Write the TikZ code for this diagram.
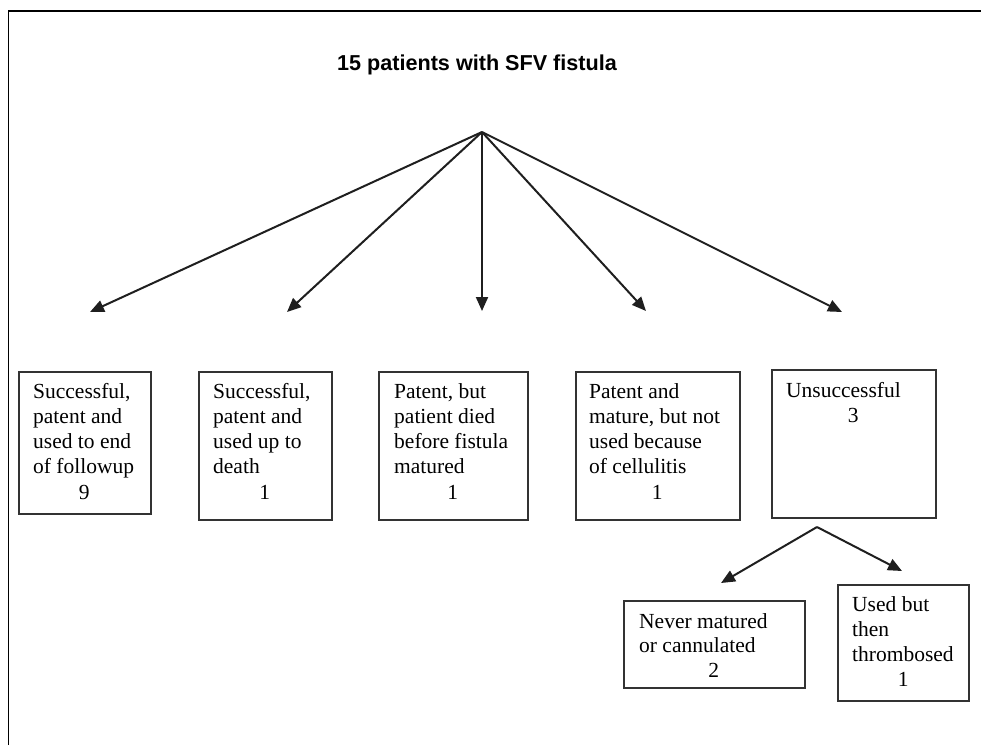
\documentclass[tikz,border=0pt]{standalone}
\usepackage{fontspec}
\setmainfont{Liberation Serif}
\newfontfamily\titlefont{Liberation Sans}
\usetikzlibrary{arrows.meta}
\begin{document}
\begin{tikzpicture}[x=1pt,y=-1pt,
  box/.style={draw=black!80, line width=1.6pt, inner sep=0pt, anchor=north west},
  txt/.style={inner sep=0pt, anchor=base west, font=\fontsize{21.5pt}{25.3pt}\selectfont},
  arr/.style={draw=black!88, line width=2pt, -{Triangle[length=14pt,width=12pt]}},
  frame/.style={draw=black, line width=1.8pt}
]
\useasboundingbox (0,0) rectangle (981,745);
\draw[frame] (8.5,745) -- (8.5,11) -- (981,11);

\node[inner sep=0pt, anchor=base, font=\titlefont\bfseries\fontsize{21.6pt}{26pt}\selectfont] (title) at (477,70) {15 patients with SFV fistula};

% boxes
\node[box, minimum width=132pt, minimum height=142pt] (b1) at (18,371) {};
\node[box, minimum width=133pt, minimum height=148pt] (b2) at (198,371) {};
\node[box, minimum width=149pt, minimum height=148pt] (b3) at (378,371) {};
\node[box, minimum width=164pt, minimum height=148pt] (b4) at (575,371) {};
\node[box, minimum width=164pt, minimum height=148pt] (b5) at (771,369) {};
\node[box, minimum width=181pt, minimum height=87pt] (b6) at (623,600) {};
\node[box, minimum width=131pt, minimum height=116pt] (b7) at (837,584) {};

% texts
\node[txt] (t1) at (33,398) {\parbox[t]{102pt}{\raggedright Successful,\\patent and\\used to end\\of followup\par\centering 9\par}};
\node[txt] (t2) at (213,398) {\parbox[t]{103pt}{\raggedright Successful,\\patent and\\used up to\\death\par\centering 1\par}};
\node[txt] (t3) at (394,398) {\parbox[t]{117pt}{\raggedright Patent, but\\patient died\\before fistula\\matured\par\centering 1\par}};
\node[txt] (t4) at (589,398) {\parbox[t]{136pt}{\raggedright Patent and\\mature, but not\\used because\\of cellulitis\par\centering 1\par}};
\node[txt] (t5) at (786,397) {\parbox[t]{134pt}{\raggedright Unsuccessful\par\centering 3\par}};
\node[txt, font=\fontsize{21.5pt}{24.6pt}\selectfont] (t6) at (639,628) {\parbox[t]{149pt}{\raggedright Never matured\\or cannulated\par\centering 2\par}};
\node[txt, font=\fontsize{21.5pt}{25pt}\selectfont] (t7) at (852,611) {\parbox[t]{102pt}{\raggedright Used but\\then\\thrombosed\par\centering 1\par}};

% connectors
\coordinate (apex) at (482,132);
\coordinate (e1) at (90,312);
\coordinate (e2) at (287,312);
\coordinate (e3) at (482,311);
\coordinate (e4) at (646,311);
\coordinate (e5) at (842,312);
\coordinate (sub) at (817,527);
\coordinate (e6) at (721,583);
\coordinate (e7) at (902,571);

\foreach \e in {e1,e2,e3,e4,e5} \draw[arr] (apex) -- (\e);
\draw[arr] (sub) -- (e6);
\draw[arr] (sub) -- (e7);
\end{tikzpicture}
\end{document}
